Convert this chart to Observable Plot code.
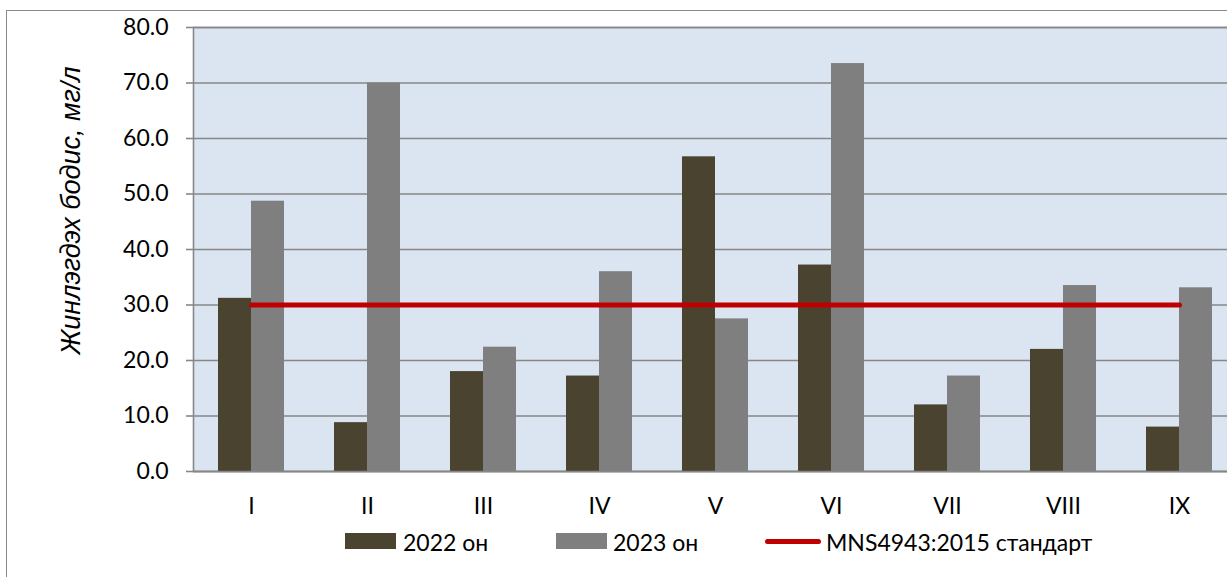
<!DOCTYPE html>
<html>
<head>
<meta charset="utf-8">
<script src="https://cdn.jsdelivr.net/npm/d3@7"></script>
<script src="https://cdn.jsdelivr.net/npm/@observablehq/plot@0.6"></script>
<style>
  html, body { margin: 0; padding: 0; background: #fff; width: 1227px; height: 577px; overflow: hidden; }
  #wrap { position: relative; width: 1227px; height: 577px; overflow: hidden; font-family: Lato, "Open Sans", sans-serif; contain: paint; }
  #border { position: absolute; left: 6px; top: 10px; width: 1300px; height: 700px; border: 1.5px solid #8a8a8a; box-sizing: border-box; }
  #chart { position: absolute; left: 0; top: 0; width: 1227px; height: 520px; overflow: hidden; }
  #legend { position: absolute; top: 527px; left: 0; width: 1227px; height: 30px; font-size: 23px; color: #000; }
  .sw { position: absolute; }
  .lt { position: absolute; top: 0; line-height: 30px; white-space: nowrap; }
</style>
</head>
<body>
<div id="wrap">
  <div id="border"></div>
  <div id="chart"></div>
  <div id="legend"></div>
</div>
<script>
const months = ["I", "II", "III", "IV", "V", "VI", "VII", "VIII", "IX"];
const y2022 = [31.2, 8.8, 18.0, 17.2, 56.7, 37.2, 12.0, 22.0, 8.0];
const y2023 = [48.7, 70.0, 22.4, 36.0, 27.5, 73.5, 17.2, 33.5, 33.1];
const standard = 30;
const yTicks = [0, 10, 20, 30, 40, 50, 60, 70, 80];
const yLabel = "Жинлэгдэх бодис, мг/л";
const seriesNames = ["2022 он", "2023 он", "MNS4943:2015 стандарт"];

const c2022 = "#494330", c2023 = "#7f7f7f", cStd = "#c00000";

const d2022 = months.map((m, i) => ({ m, v: y2022[i] }));
const d2023 = months.map((m, i) => ({ m, v: y2023[i] }));
const dStd = months.map(m => ({ m, v: standard }));

const chart = Plot.plot({
  width: 1240,
  height: 520,
  marginLeft: 193,
  marginRight: 3,
  marginTop: 27,
  marginBottom: 49,
  style: { fontFamily: "Lato, 'Open Sans', sans-serif", fontSize: "23px", color: "#000", background: "transparent" },
  x: { type: "band", domain: months, padding: 0 },
  y: { domain: [0, 80] },
  marks: [
    Plot.frame({ fill: "#dbe5f1", stroke: null }),
    Plot.gridY(yTicks, { stroke: "#878787", strokeOpacity: 1, strokeWidth: 1.6 }),
    Plot.frame({ stroke: "#878787", strokeWidth: 1.6, fill: "none" }),
    Plot.barY(d2022, { x: "m", y: "v", fill: c2022, insetLeft: 25, insetRight: 58 }),
    Plot.barY(d2023, { x: "m", y: "v", fill: c2023, insetLeft: 58, insetRight: 25 }),
    Plot.lineY(dStd, { x: "m", y: "v", stroke: cStd, strokeWidth: 5, strokeLinecap: "round" }),
    Plot.ruleY([0], { stroke: "#878787", strokeWidth: 1.6 }),
    Plot.axisY(yTicks, { tickSize: 7, tickPadding: 18, tickFormat: d3.format(".1f"), stroke: "#878787", strokeWidth: 1.6, label: null, fill: "#000" }),
    Plot.axisX({ tickSize: 0, tickPadding: 26, label: null, fill: "#000" }),
    Plot.text([yLabel], { frameAnchor: "left", textAnchor: "middle", dx: -122, dy: -39, rotate: -90, fontSize: 27, fontStyle: "italic", fontFamily: "'Liberation Sans', Arial, sans-serif", fill: "#000", text: d => d })
  ]
});
chart.style.maxWidth = "none";
chart.setAttribute("width", 1240);
document.getElementById("chart").appendChild(chart);

const lg = document.getElementById("legend");
const items = [
  { type: "box", color: c2022, sx: 345, sw: 51, tx: 403, label: seriesNames[0] },
  { type: "box", color: c2023, sx: 556, sw: 51, tx: 613, label: seriesNames[1] },
  { type: "line", color: cStd, sx: 765, sw: 56, tx: 826, label: seriesNames[2] }
];
for (const it of items) {
  const s = document.createElement("div");
  s.className = "sw";
  s.style.left = it.sx + "px";
  s.style.width = it.sw + "px";
  s.style.background = it.color;
  if (it.type === "box") { s.style.top = "6px"; s.style.height = "16px"; }
  else { s.style.top = "12px"; s.style.height = "5px"; s.style.borderRadius = "3px"; }
  lg.appendChild(s);
  const t = document.createElement("div");
  t.className = "lt";
  t.style.left = it.tx + "px";
  t.textContent = it.label;
  lg.appendChild(t);
}
</script>
</body>
</html>
